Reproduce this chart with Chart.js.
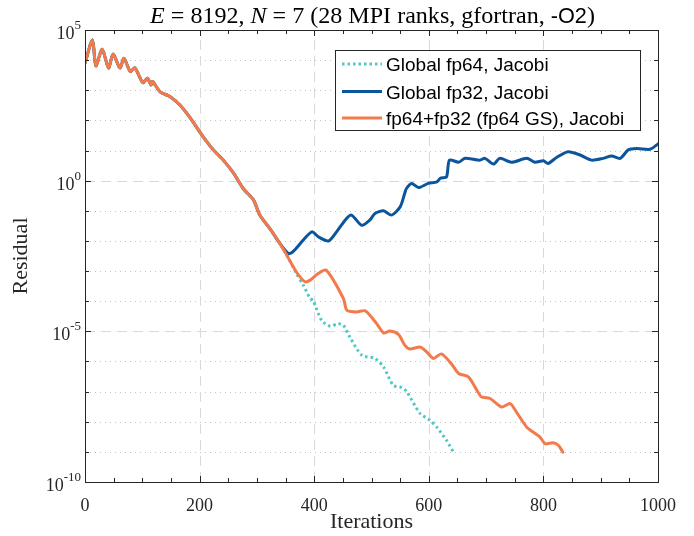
<!DOCTYPE html>
<html>
<head>
<meta charset="utf-8">
<script src="https://cdn.jsdelivr.net/npm/chart.js@4.4.1/dist/chart.umd.min.js"></script>
<style>
  html, body { margin: 0; padding: 0; background: #fff; }
  #wrap { width: 694px; height: 536px; }
</style>
</head>
<body>
<div id="wrap"><canvas id="resChart" width="694" height="536"></canvas></div>
<script>
// all three runs follow the same curve up to ~340 iterations
const baseIters = [0, 13, 19, 30, 41, 49, 61, 68, 79, 87, 101, 109, 115, 118, 131, 148, 166, 183, 206, 224, 241, 259, 276, 294, 305, 323, 340]
const baseRes = [8e3, 4.7e4, 6.5e3, 2.3e4, 5.5e3, 1.6e4, 5.5e3, 1.15e4, 4.2e3, 5.5e3, 1.8e3, 2.5e3, 1.5e3, 1.95e3, 890, 620, 320, 126, 29, 10.5, 4.9, 1.8, 0.55, 0.23, 0.072, 0.025, 8.3e-3]

// Global fp64, Jacobi
const fp64Iters = [352, 369, 381, 393, 398, 413, 428, 442, 451, 462, 483, 506, 521, 538, 553, 561, 585, 602, 614, 631, 643]
const fp64Res = [3.4e-3, 8.3e-4, 3.4e-4, 1.23e-4, 1.07e-4, 2.3e-5, 1.48e-5, 1.8e-5, 1.58e-5, 6.5e-6, 1.62e-6, 1.26e-6, 6.6e-7, 1.62e-7, 1.35e-7, 1.02e-7, 1.86e-8, 1.12e-8, 6.6e-9, 2.4e-9, 9.8e-10]

// Global fp32, Jacobi
const fp32Iters = [355, 363, 381, 396, 407, 425, 439, 454, 465, 483, 497, 506, 521, 535, 550, 558, 561, 570, 582, 599, 614, 620, 631, 636, 652, 663, 689, 698, 713, 724, 745, 771, 785, 800, 808, 823, 843, 864, 884, 904, 919, 934, 948, 963, 986, 1000]
const fp32Res = [3.8e-3, 4.4e-3, 0.0107, 0.02, 0.0138, 0.01, 0.02, 0.049, 0.072, 0.033, 0.049, 0.081, 0.1, 0.072, 0.135, 0.38, 0.55, 0.81, 0.59, 0.81, 0.91, 1.2, 1.35, 4.8, 4.1, 5.5, 4.8, 5.5, 3.55, 5.5, 4.1, 5.5, 4.1, 4.6, 3.7, 5.9, 9.1, 7.1, 4.8, 5.5, 6.6, 5.5, 10.5, 11.7, 11, 16.6]

// fp64+fp32 (fp64 GS), Jacobi
const mixedIters = [352, 369, 384, 393, 407, 421, 451, 457, 474, 489, 509, 521, 532, 547, 558, 567, 585, 596, 608, 622, 640, 652, 669, 684, 692, 707, 727, 742, 753, 771, 794, 803, 817, 826, 834]
const mixedRes = [3.4e-3, 9.3e-4, 4.4e-4, 5e-4, 8.3e-4, 1.07e-3, 1.23e-4, 5e-5, 4.4e-5, 4.8e-5, 1.8e-5, 8.9e-6, 1.02e-5, 7.9e-6, 3.5e-6, 2.6e-6, 3e-6, 2.1e-6, 1.26e-6, 1.78e-6, 8.1e-7, 4e-7, 3.1e-7, 1.1e-7, 6.6e-8, 5.9e-8, 3.1e-8, 4e-8, 2.1e-8, 6.6e-9, 3.1e-9, 1.86e-9, 2e-9, 1.66e-9, 9.8e-10]

const seriesNames = ['Global fp64, Jacobi', 'Global fp32, Jacobi', 'fp64+fp32 (fp64 GS), Jacobi']
const xTickLabels = [0, 200, 400, 600, 800, 1000]
const yTickPowers = [5, 0, -5, -10]

const colors = ['#4fc8c4', '#0a559c', '#f37a4b']
const axisCol = '#262626'
const serif = '"Liberation Serif", "Times New Roman", serif'

const toPts = (its, res) => its.map((v, i) => ({x: v, y: res[i]}))

function drawLegend(ctx) {
    ctx.save()
    ctx.setLineDash([])
    ctx.fillStyle = '#fff'
    ctx.fillRect(335.5, 50.5, 305, 80)
    ctx.strokeStyle = axisCol
    ctx.lineWidth = 1
    ctx.strokeRect(335.5, 50.5, 305, 80)
    const rows = [64, 91.5, 118]
    ctx.font = '19px "Liberation Sans", Arial, sans-serif'
    ctx.textBaseline = 'alphabetic'
    ctx.textAlign = 'left'
    rows.forEach((ry, i) => {
        ctx.strokeStyle = colors[i]
        ctx.lineWidth = 3
        ctx.lineCap = 'butt'
        ctx.setLineDash(i === 0 ? [2.5, 3] : [])
        ctx.beginPath()
        ctx.moveTo(342, ry)
        ctx.lineTo(382, ry)
        ctx.stroke()
        ctx.fillStyle = '#000'
        ctx.fillText(seriesNames[i], 386, ry + 7)
    })
    ctx.restore()
}

function drawTitle(ctx, cx) {
    const parts = [
        ['E', 'italic ', serif],
        [' = 8192, ', '', serif],
        ['N', 'italic ', serif],
        [' = 7 (28 MPI ranks, gfortran, ', '', serif],
        ['-O2', '', '"Liberation Sans", Arial, sans-serif'],
        [')', '', serif]
    ]
    const target = 445
    const measure = size => parts.reduce((w, pt) => {
        ctx.font = pt[1] + (pt[2] === serif ? size : size * 0.9) + 'px ' + pt[2]
        return w + ctx.measureText(pt[0]).width
    }, 0)
    const size = 20 * target / measure(20)
    let tx = cx - measure(size) / 2
    ctx.textAlign = 'left'
    ctx.fillStyle = '#000'
    parts.forEach(pt => {
        ctx.font = pt[1] + (pt[2] === serif ? size : size * 0.9) + 'px ' + pt[2]
        ctx.fillText(pt[0], tx, 23)
        tx += ctx.measureText(pt[0]).width
    })
}

const frame = {
    id: 'frame',
    beforeDatasetsDraw(chart) {
        const {ctx, chartArea: a, scales: {x, y}} = chart
        ctx.save()
        ctx.lineWidth = 1
        for (let p = -9; p <= 4; p++) {
            const py = Math.round(y.getPixelForValue(Math.pow(10, p))) + 0.5
            if (p % 5 === 0) { ctx.strokeStyle = '#d9d9d9'; ctx.setLineDash([10, 6]) }
            else { ctx.strokeStyle = '#c4c4c4'; ctx.setLineDash([1, 4]) }
            ctx.beginPath()
            ctx.moveTo(a.left, py)
            ctx.lineTo(a.right, py)
            ctx.stroke()
        }
        ctx.strokeStyle = '#d9d9d9'
        ctx.setLineDash([10, 6])
        for (let v = 200; v < 1000; v += 200) {
            const px = Math.round(x.getPixelForValue(v)) + 0.5
            ctx.beginPath()
            ctx.moveTo(px, a.bottom)
            ctx.lineTo(px, a.top)
            ctx.stroke()
        }
        ctx.restore()
    },
    afterDatasetsDraw(chart) {
        const {ctx, chartArea: a, scales: {x, y}} = chart
        ctx.save()
        ctx.setLineDash([])
        ctx.strokeStyle = axisCol
        ctx.lineWidth = 1
        // tick marks, pointing inwards
        for (let v = 0; v <= 1000; v += 50) {
            const px = Math.round(x.getPixelForValue(v)) + 0.5
            const len = v % 200 === 0 ? 6 : 4
            ctx.beginPath()
            ctx.moveTo(px, a.bottom); ctx.lineTo(px, a.bottom - len)
            ctx.moveTo(px, a.top); ctx.lineTo(px, a.top + len)
            ctx.stroke()
        }
        for (let p = -10; p <= 5; p++) {
            const py = Math.round(y.getPixelForValue(Math.pow(10, p))) + 0.5
            const len = p % 5 === 0 ? 6 : 4
            ctx.beginPath()
            ctx.moveTo(a.left, py); ctx.lineTo(a.left + len, py)
            ctx.moveTo(a.right, py); ctx.lineTo(a.right - len, py)
            ctx.stroke()
        }
        ctx.strokeRect(Math.round(a.left) + 0.5, Math.round(a.top) + 0.5, Math.round(a.right - a.left), Math.round(a.bottom - a.top))

        drawLegend(ctx)

        // tick labels
        ctx.fillStyle = axisCol
        ctx.font = '18px ' + serif
        ctx.textAlign = 'center'
        ctx.textBaseline = 'alphabetic'
        xTickLabels.forEach(v => ctx.fillText(String(v), x.getPixelForValue(v), a.bottom + 29))
        yTickPowers.forEach(p => {
            const py = y.getPixelForValue(Math.pow(10, p))
            ctx.font = '13px ' + serif
            const sup = String(p)
            const w2 = ctx.measureText(sup).width
            ctx.font = '18px ' + serif
            const w1 = ctx.measureText('10').width
            const right = a.left - 4
            ctx.textAlign = 'left'
            ctx.fillText('10', right - w2 - w1, py + 9)
            ctx.font = '13px ' + serif
            ctx.fillText(sup, right - w2, py - 1)
        })

        // axis titles
        ctx.font = '22px ' + serif
        ctx.textAlign = 'center'
        ctx.fillText('Iterations', (a.left + a.right) / 2, 528)
        ctx.save()
        ctx.translate(27, (a.top + a.bottom) / 2)
        ctx.rotate(-Math.PI / 2)
        ctx.fillText('Residual', 0, 0)
        ctx.restore()

        drawTitle(ctx, (a.left + a.right) / 2 + 1)
        ctx.restore()
    }
}

const config = {
    type: 'line',
    data: {
        datasets: [
            {
                label: seriesNames[0],
                data: toPts(baseIters.concat(fp64Iters), baseRes.concat(fp64Res)),
                borderColor: colors[0],
                borderWidth: 3,
                borderDash: [2.5, 3],
                borderCapStyle: 'butt',
                order: 3
            },
            {
                label: seriesNames[1],
                data: toPts(baseIters.concat(fp32Iters), baseRes.concat(fp32Res)),
                borderColor: colors[1],
                borderWidth: 3,
                order: 2
            },
            {
                label: seriesNames[2],
                data: toPts(baseIters.concat(mixedIters), baseRes.concat(mixedRes)),
                borderColor: colors[2],
                borderWidth: 3,
                order: 1
            }
        ]
    },
    options: {
        responsive: false,
        animation: false,
        layout: { padding: { top: 30, right: 36, left: 0, bottom: 0 } },
        elements: {
            point: { radius: 0 },
            line: { tension: 0.25, borderJoinStyle: 'round', borderCapStyle: 'round', fill: false }
        },
        plugins: { legend: { display: false }, tooltip: { enabled: false } },
        scales: {
            x: {
                type: 'linear', min: 0, max: 1000,
                grid: { display: false }, border: { display: false },
                ticks: { display: false },
                afterFit: s => { s.height = 54 }
            },
            y: {
                type: 'logarithmic', min: 1e-10, max: 1e5,
                grid: { display: false }, border: { display: false },
                ticks: { display: false },
                afterFit: s => { s.width = 85 }
            }
        }
    },
    plugins: [frame]
}

const resChart = new Chart(document.getElementById('resChart'), config)
</script>
</body>
</html>
